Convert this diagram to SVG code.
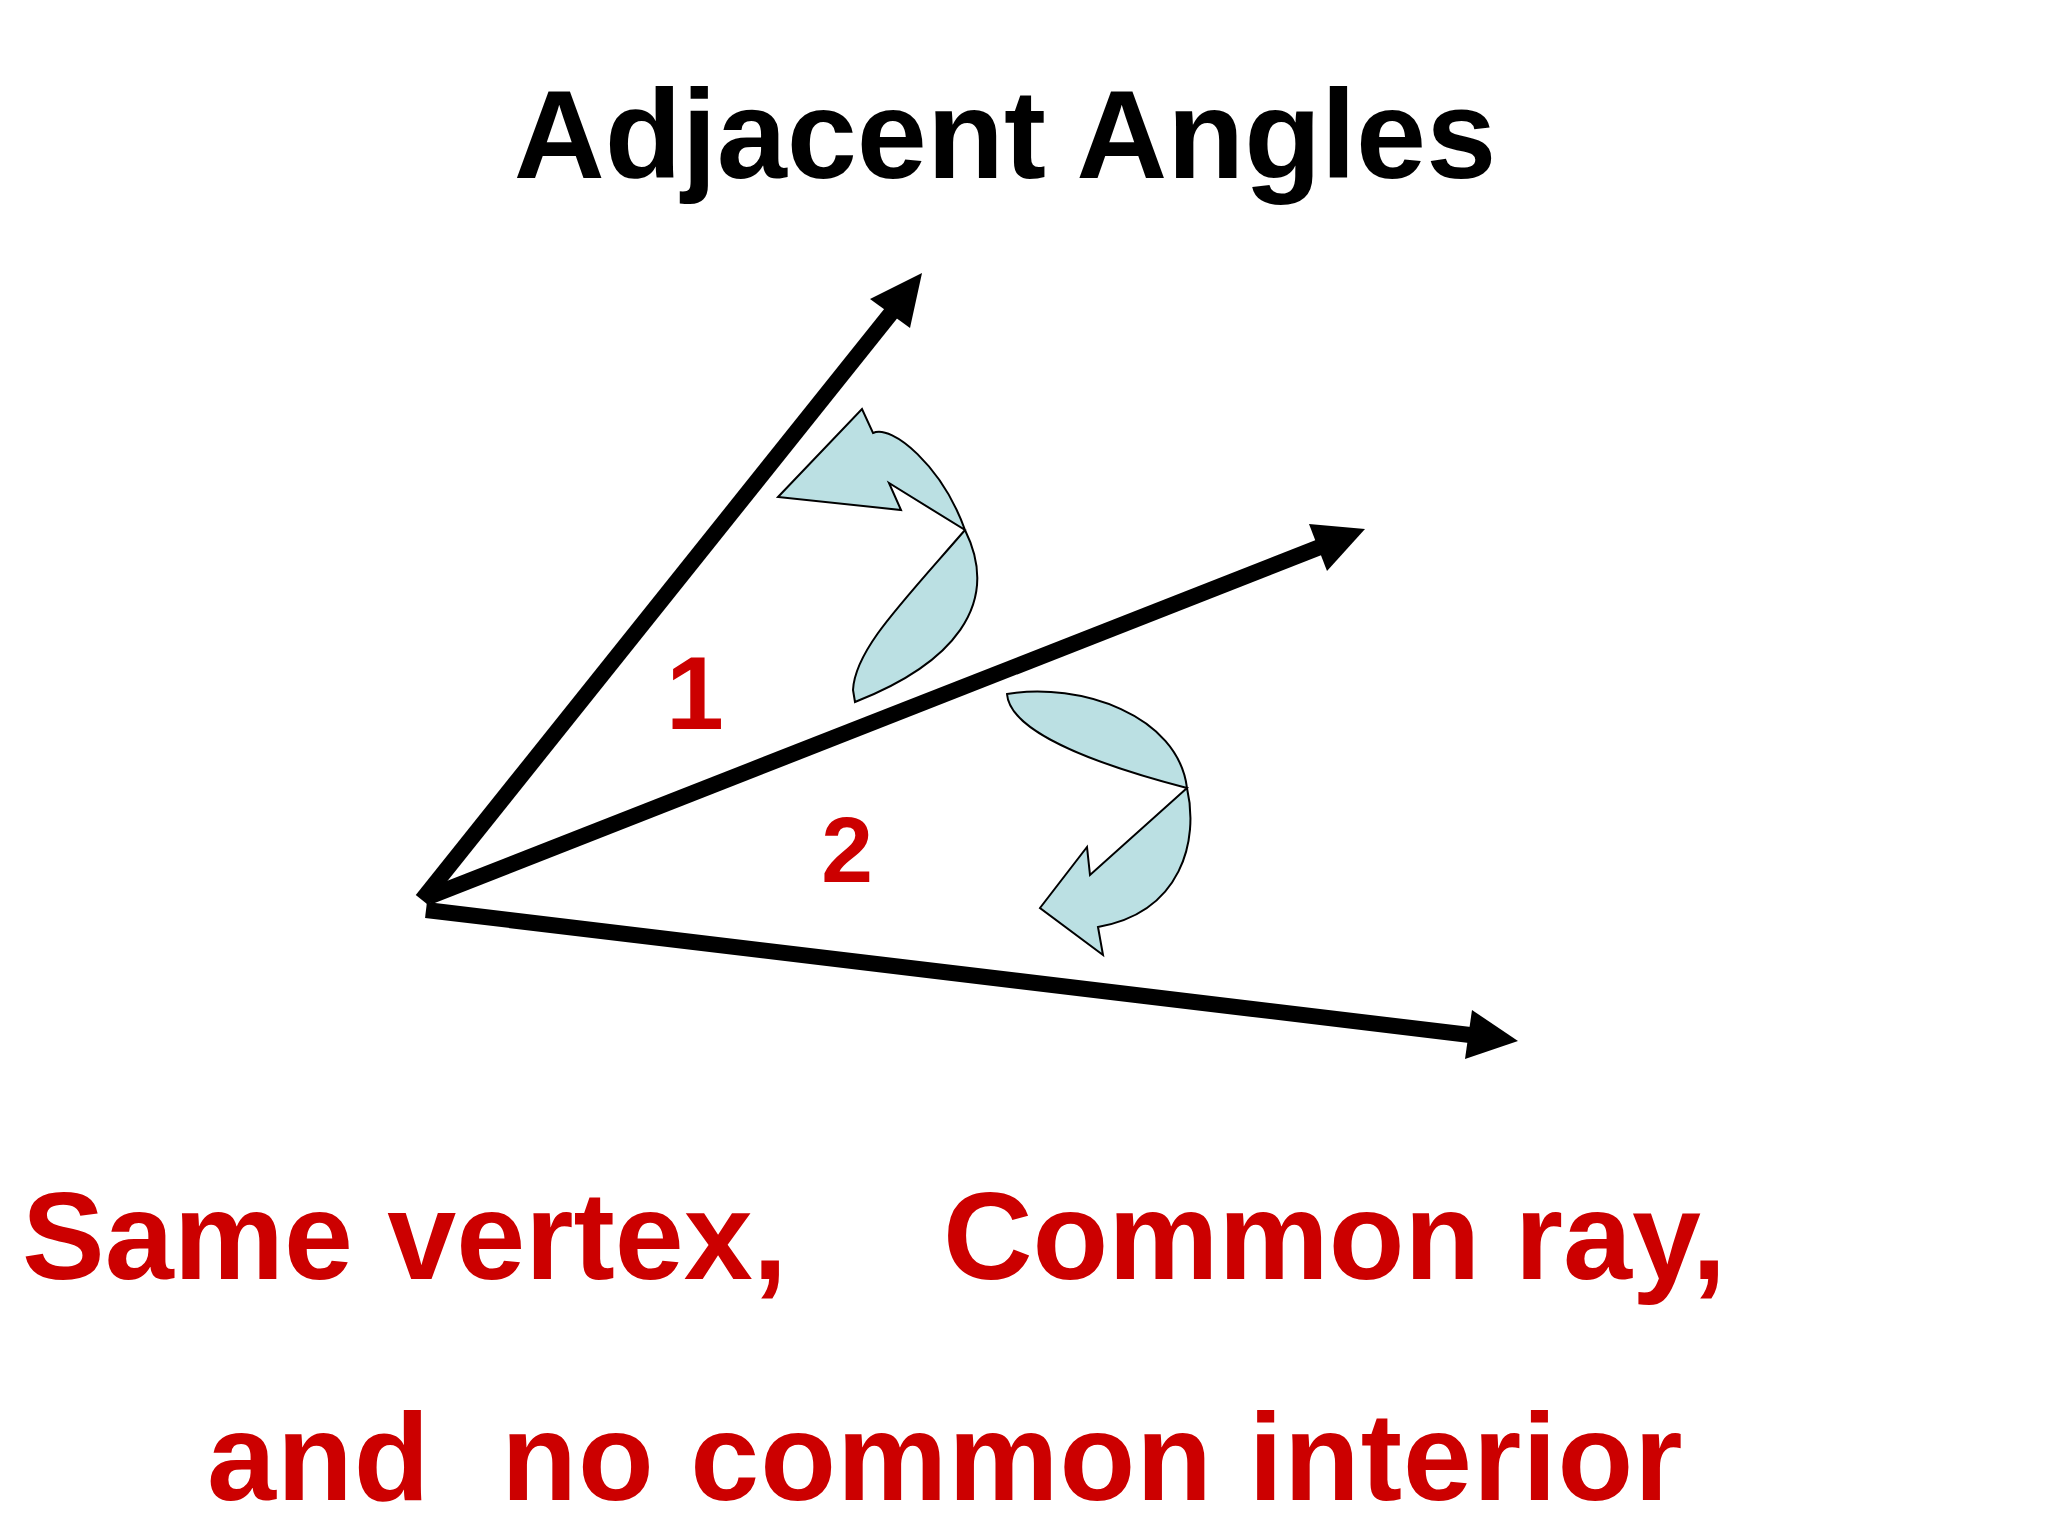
<svg xmlns="http://www.w3.org/2000/svg" width="2048" height="1536" viewBox="0 0 2048 1536">
<style>
.title{font-family:"Liberation Sans",Arial,sans-serif;font-weight:bold;font-size:126px;fill:#000}
.red{font-family:"Liberation Sans",Arial,sans-serif;font-weight:bold;font-size:124px;fill:#CC0000;white-space:pre}
.num{font-family:"Liberation Sans",Arial,sans-serif;font-weight:bold;fill:#CC0000}
.ray{stroke:#000;stroke-width:16;fill:none}
.head{fill:#000}
.turn{fill:#BBE0E3;stroke:#000;stroke-width:2;stroke-linejoin:miter}
</style>
<rect width="2048" height="1536" fill="#fff"/>
<g id="title"><text class="title" x="1005" y="178" text-anchor="middle">Adjacent Angles</text></g>
<g id="connectors">
<line class="ray" x1="422" y1="900" x2="892" y2="312"/>
<polygon class="head" points="922,273 870,299 910,328"/>
<line class="ray" x1="428" y1="897" x2="1320" y2="547"/>
<polygon class="head" points="1365,529 1309,524 1327,571"/>
<line class="ray" x1="426" y1="910" x2="1470" y2="1035"/>
<polygon class="head" points="1518,1041 1472,1010 1465,1059"/>
</g>
<g id="turn1">
<path class="turn" d="M778,497 L862,409 L873,433 C892,424 942,466 965,530 C1002,605 952,664 855,702 L853,690 C855,650 900,605 965,530 L889,483 L901,510 Z"/>
</g>
<g id="turn2">
<path class="turn" d="M1007,694 C1080,682 1178,715 1187,788 C1199,840 1182,912 1098,927 L1103,955 L1040,908 L1087,847 L1090,875 L1187,788 C1110,768 1010,735 1007,694 Z"/>
</g>
<g id="label1"><text class="num" x="695" y="729" font-size="104" text-anchor="middle">1</text></g>
<g id="label2"><text class="num" x="847" y="882" font-size="93" text-anchor="middle">2</text></g>
<g id="caption">
<text class="red" x="22" y="1279">Same vertex,</text>
<text class="red" x="943" y="1279">Common ray,</text>
<text class="red" x="207" y="1500" letter-spacing="1">and  no common interior</text>
</g>
</svg>
